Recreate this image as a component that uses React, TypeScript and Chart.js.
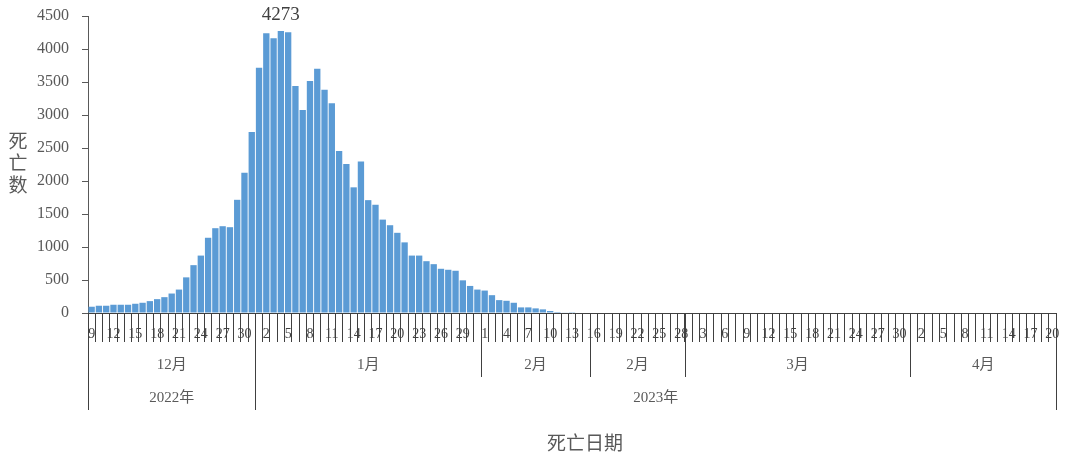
import React, { useEffect, useRef } from 'react';
import { Chart, registerables } from 'chart.js';

Chart.register(...registerables);

// daily deaths (Dec 9 2022 .. Apr 20 2023)
const decDeaths = [95, 110, 110, 125, 125, 125, 140, 155, 180, 210, 240, 295, 355, 540, 725, 870, 1140, 1285, 1315, 1300, 1715, 2125, 2742];
const janDeaths = [3717, 4237, 4161, 4273, 4252, 3439, 3075, 3515, 3702, 3383, 3177, 2454, 2257, 1904, 2297, 1710, 1640, 1415, 1330, 1215, 1070, 870, 870, 785, 740, 670, 655, 640, 495, 410, 355];
const febDeaths = [340, 270, 195, 185, 155, 85, 85, 70, 55, 30, 15, 6, 3, 0, 0, 0, 0, 0, 0, 0, 0, 0, 0, 0, 0, 0, 0, 0];
const marDeaths = [0, 0, 0, 0, 0, 0, 0, 0, 0, 0, 0, 0, 0, 0, 0, 0, 0, 0, 0, 0, 0, 0, 0, 0, 0, 0, 0, 0, 0, 0, 0];
const aprDeaths = [0, 0, 0, 0, 0, 0, 0, 0, 0, 0, 0, 0, 0, 0, 0, 0, 0, 0, 0, 0];

// grouped category axis: month segments and years
const segmentLabels = ['12月', '1月', '2月', '2月', '3月', '4月'];
const segmentFirstDay = [9, 1, 1, 16, 1, 1];
const segmentLastDay = [31, 31, 15, 28, 31, 20];
const yearLabels = ['2022年', '2023年'];
const yearSegmentCounts = [1, 5];

const yMax = 4500;
const yStep = 500;

const deaths = [...decDeaths, ...janDeaths, ...febDeaths, ...marDeaths, ...aprDeaths];

const dayLabels: string[] = [];
const segmentSizes: number[] = [];
segmentFirstDay.forEach((first, s) => {
    for (let d = first; d <= segmentLastDay[s]; d++) dayLabels.push(String(d));
    segmentSizes.push(segmentLastDay[s] - first + 1);
});

const numFont = "'Liberation Serif', 'Noto Sans CJK SC', serif";
const cjkFont = "'Noto Sans CJK SC', sans-serif";
const textColor = '#595959';
const lineColor = '#404040';

const axisGroups = {
    id: 'axisGroups',
    afterDraw(chart: any) {
        const { ctx, chartArea } = chart;
        const x = chart.scales.x;
        const n = dayLabels.length;
        const w = (x.right - x.left) / n;
        const edge = (i: number) => x.left + i * w;
        const base = chartArea.bottom;

        const monthEdges = [0];
        segmentSizes.forEach(s => monthEdges.push(monthEdges[monthEdges.length - 1] + s));
        const yearEdges = [0];
        let seg = 0;
        yearSegmentCounts.forEach(c => { seg += c; yearEdges.push(monthEdges[seg]); });

        ctx.save();
        ctx.strokeStyle = lineColor;
        ctx.lineWidth = 1;
        monthEdges.forEach(i => {
            const px = Math.round(edge(i)) + 0.5;
            const len = yearEdges.includes(i) ? 97 : 64;
            ctx.beginPath();
            ctx.moveTo(px, base);
            ctx.lineTo(px, base + len);
            ctx.stroke();
        });

        ctx.fillStyle = textColor;
        ctx.textAlign = 'center';
        ctx.textBaseline = 'middle';
        ctx.font = `15px ${numFont}`;
        segmentLabels.forEach((label, s) => {
            ctx.fillText(label, (edge(monthEdges[s]) + edge(monthEdges[s + 1])) / 2, base + 52);
        });
        yearLabels.forEach((label, k) => {
            ctx.fillText(label, (edge(yearEdges[k]) + edge(yearEdges[k + 1])) / 2, base + 85);
        });

        // axis titles
        ctx.font = `19px ${cjkFont}`;
        ctx.fillText('死亡日期', 585, 443);
        ['死', '亡', '数'].forEach((ch, k) => ctx.fillText(ch, 18, 141 + k * 22));

        // peak value label
        const meta = chart.getDatasetMeta(0);
        let peak = 0;
        deaths.forEach((v, i) => { if (v > deaths[peak]) peak = i; });
        const bar = meta.data[peak];
        ctx.fillStyle = lineColor;
        ctx.font = `19px ${numFont}`;
        ctx.textBaseline = 'bottom';
        ctx.fillText(String(deaths[peak]), bar.x, bar.y - 6);
        ctx.restore();
    },
};

const App: React.FC = () => {
    const chartRef = useRef<HTMLCanvasElement | null>(null);

    useEffect(() => {
        document.body.style.margin = '0';
        if (!chartRef.current) return;
        const ctx = chartRef.current.getContext('2d');
        if (!ctx) return;

        const chart = new Chart(ctx, {
            type: 'bar',
            data: {
                labels: dayLabels,
                datasets: [{
                    data: deaths,
                    backgroundColor: '#5b9bd5',
                    barPercentage: 0.87,
                    categoryPercentage: 1,
                }],
            },
            options: {
                responsive: false,
                animation: false,
                layout: { padding: { top: 16, right: 24, left: 0, bottom: 0 } },
                plugins: {
                    legend: { display: false },
                    tooltip: { enabled: false },
                },
                scales: {
                    x: {
                        offset: true,
                        grid: { offset: true, drawOnChartArea: false, tickLength: 29, color: lineColor },
                        border: { color: lineColor },
                        ticks: {
                            autoSkip: false,
                            maxRotation: 0,
                            minRotation: 0,
                            padding: -16,
                            color: lineColor,
                            font: { family: numFont, size: 14 },
                            callback: (_v: any, i: number) => (i % 3 === 0 ? dayLabels[i] : ''),
                        },
                        afterFit: (s: any) => { s.height = 152; },
                    },
                    y: {
                        min: 0,
                        max: yMax,
                        ticks: {
                            stepSize: yStep,
                            padding: 13,
                            color: textColor,
                            font: { family: numFont, size: 16 },
                            callback: (v: any) => String(v),
                        },
                        grid: { drawOnChartArea: false, tickLength: 6, color: textColor },
                        border: { color: textColor },
                        afterFit: (s: any) => {
                            s.width = 88;
                            s.paddingTop = 0;
                            s.paddingBottom = 0;
                        },
                    },
                },
            },
            plugins: [axisGroups],
        });

        return () => {
            chart.destroy();
        };
    }, []);

    return (
        <div style={{ width: 1080, height: 465, background: '#fff' }}>
            <canvas ref={chartRef} width={1080} height={465}></canvas>
        </div>
    );
};

export default App;
